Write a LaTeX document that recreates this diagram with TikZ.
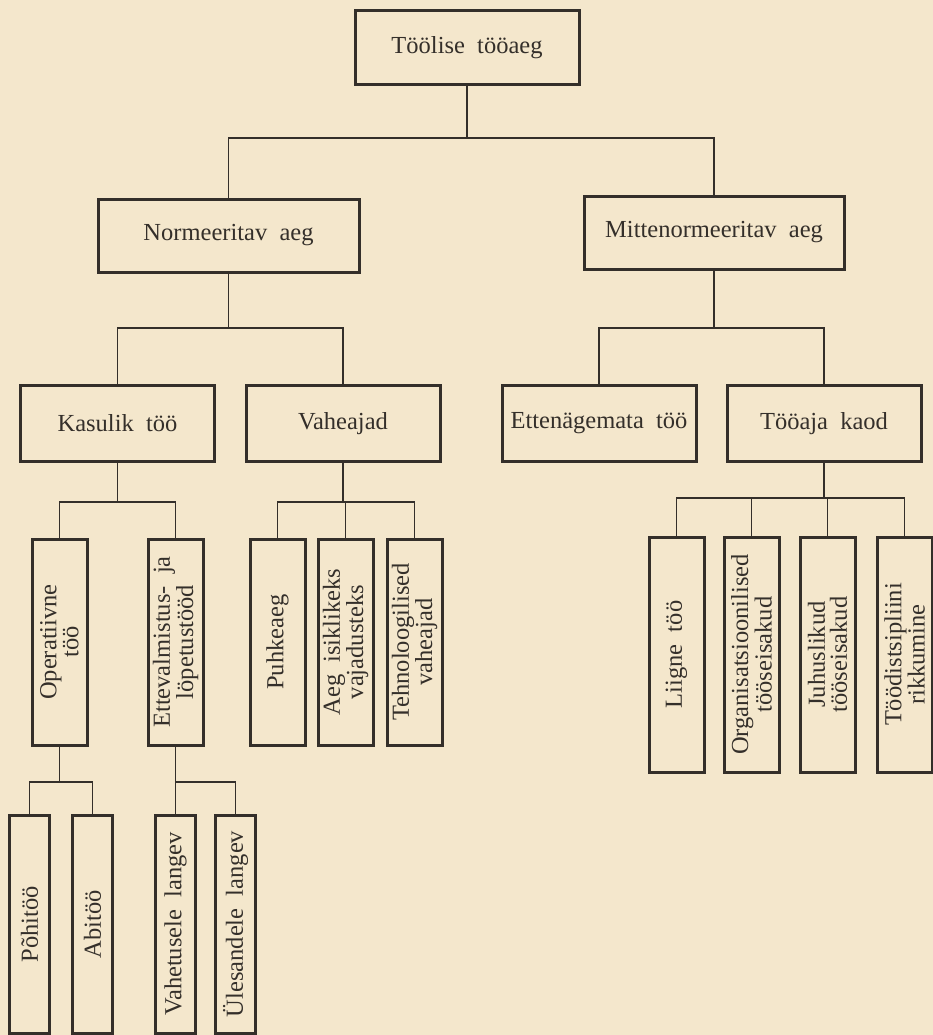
\documentclass[tikz,border=0pt]{standalone}
\usepackage{fontspec}
\setmainfont{Liberation Serif}
\usetikzlibrary{positioning}
\definecolor{Paper}{RGB}{244,231,204}
\definecolor{Ink}{RGB}{52,47,42}

\begin{document}
\begin{tikzpicture}[x=1pt, y=-1pt,
		every node/.style={draw=Ink, line width=3pt, align=center, inner sep=0pt,
			font=\fontsize{24.5}{22}\selectfont, text=Ink},
		hbox/.style={minimum width=194, minimum height=76},
		vbox/.style={rotate=90, minimum width=206, minimum height=55},
		lowbox/.style={rotate=90, minimum width=218, minimum height=40},
		link/.style={draw=Ink, line width=1.5pt}
		]
		\fill[Paper] (0,0) rectangle (933,1035);
		\useasboundingbox (0,0) rectangle (933,1035);

		% top levels
		\node[minimum width=224, minimum height=74] (T) at (467,48) {T\"o\"olise\ \ t\"o\"oaeg};
		\node[minimum width=261, minimum height=73] (N) at (228.5,235.5) {Normeeritav\ \ aeg};
		\node[minimum width=260, minimum height=73] (M) at (714,232.5) {Mittenormeeritav\ \ aeg};

		\node[hbox] (K) at (117.5,423.5) {Kasulik\ \ t\"o\"o};
		\node[hbox] (V) at (343,423.5) {Vaheajad};
		\node[hbox] (E) at (599,423.5) {Etten\"agemata\ \ t\"o\"o};
		\node[hbox] (TK) at (824,423.5) {T\"o\"oaja\ \ kaod};

		% vertical boxes
		\node[vbox] (O) at (59.5,642) {Operatiivne\\t\"o\"o};
		\node[vbox] (EV) at (175.5,642) {Ettevalmistus-\ \ ja\\l\"opetust\"o\"od};
		\node[vbox] (P) at (277.5,642) {Puhkeaeg};
		\node[vbox] (AI) at (345.5,642) {Aeg\ \ isiklikeks\\vajadusteks};
		\node[vbox] (TE) at (414.5,642) {Tehnoloogilised\\vaheajad};

		\node[vbox, minimum width=235] (L) at (676.5,654.5) {Liigne\ \ t\"o\"o};
		\node[vbox, minimum width=235] (OR) at (751.5,654.5) {Organisatsioonilised\\t\"o\"oseisakud};
		\node[vbox, minimum width=235] (J) at (827.5,654.5) {Juhuslikud\\t\"o\"oseisakud};
		\node[vbox, minimum width=235] (TD) at (904.5,654.5) {T\"o\"odistsipliini\\rikkumine};

		\node[lowbox] (PT) at (29.5,924) {P\~ohit\"o\"o};
		\node[lowbox] (AB) at (92.5,924) {Abit\"o\"o};
		\node[lowbox] (VL) at (175.5,924) {Vahetusele\ \ langev};
		\node[lowbox] (UL) at (235.5,924) {\"Ulesandele\ \ langev};

		% junctions
		\coordinate (j0) at (467,138);
		\coordinate (j1) at (228.5,328);
		\coordinate (j2) at (714,328);
		\coordinate (j3) at (117.5,502);
		\coordinate (j4) at (343,502);
		\coordinate (j5) at (824,498);
		\coordinate (j6) at (59.5,782);
		\coordinate (j7) at (175.5,782);

		\draw[link] (T.south) -- (j0);
		\draw[link] (N.north) |- (j0) -| (M.north);
		\draw[link] (N.south) -- (j1);
		\draw[link] (K.north) |- (j1) -| (V.north);
		\draw[link] (M.south) -- (j2);
		\draw[link] (E.north) |- (j2) -| (TK.north);
		\draw[link] (K.south) -- (j3);
		\draw[link] (O.east) |- (j3) -| (EV.east);
		\draw[link] (V.south) -- (j4);
		\draw[link] (P.east) |- (j4) -| (TE.east);
		\draw[link] (AI.east) -- (AI.east |- j4);
		\draw[link] (TK.south) -- (j5);
		\draw[link] (L.east) |- (j5) -| (TD.east);
		\draw[link] (OR.east) -- (OR.east |- j5);
		\draw[link] (J.east) -- (J.east |- j5);
		\draw[link] (O.west) -- (j6);
		\draw[link] (PT.east) |- (j6) -| (AB.east);
		\draw[link] (EV.west) -- (VL.east);
		\draw[link] (j7) -| (UL.east);
	\end{tikzpicture}
\end{document}
